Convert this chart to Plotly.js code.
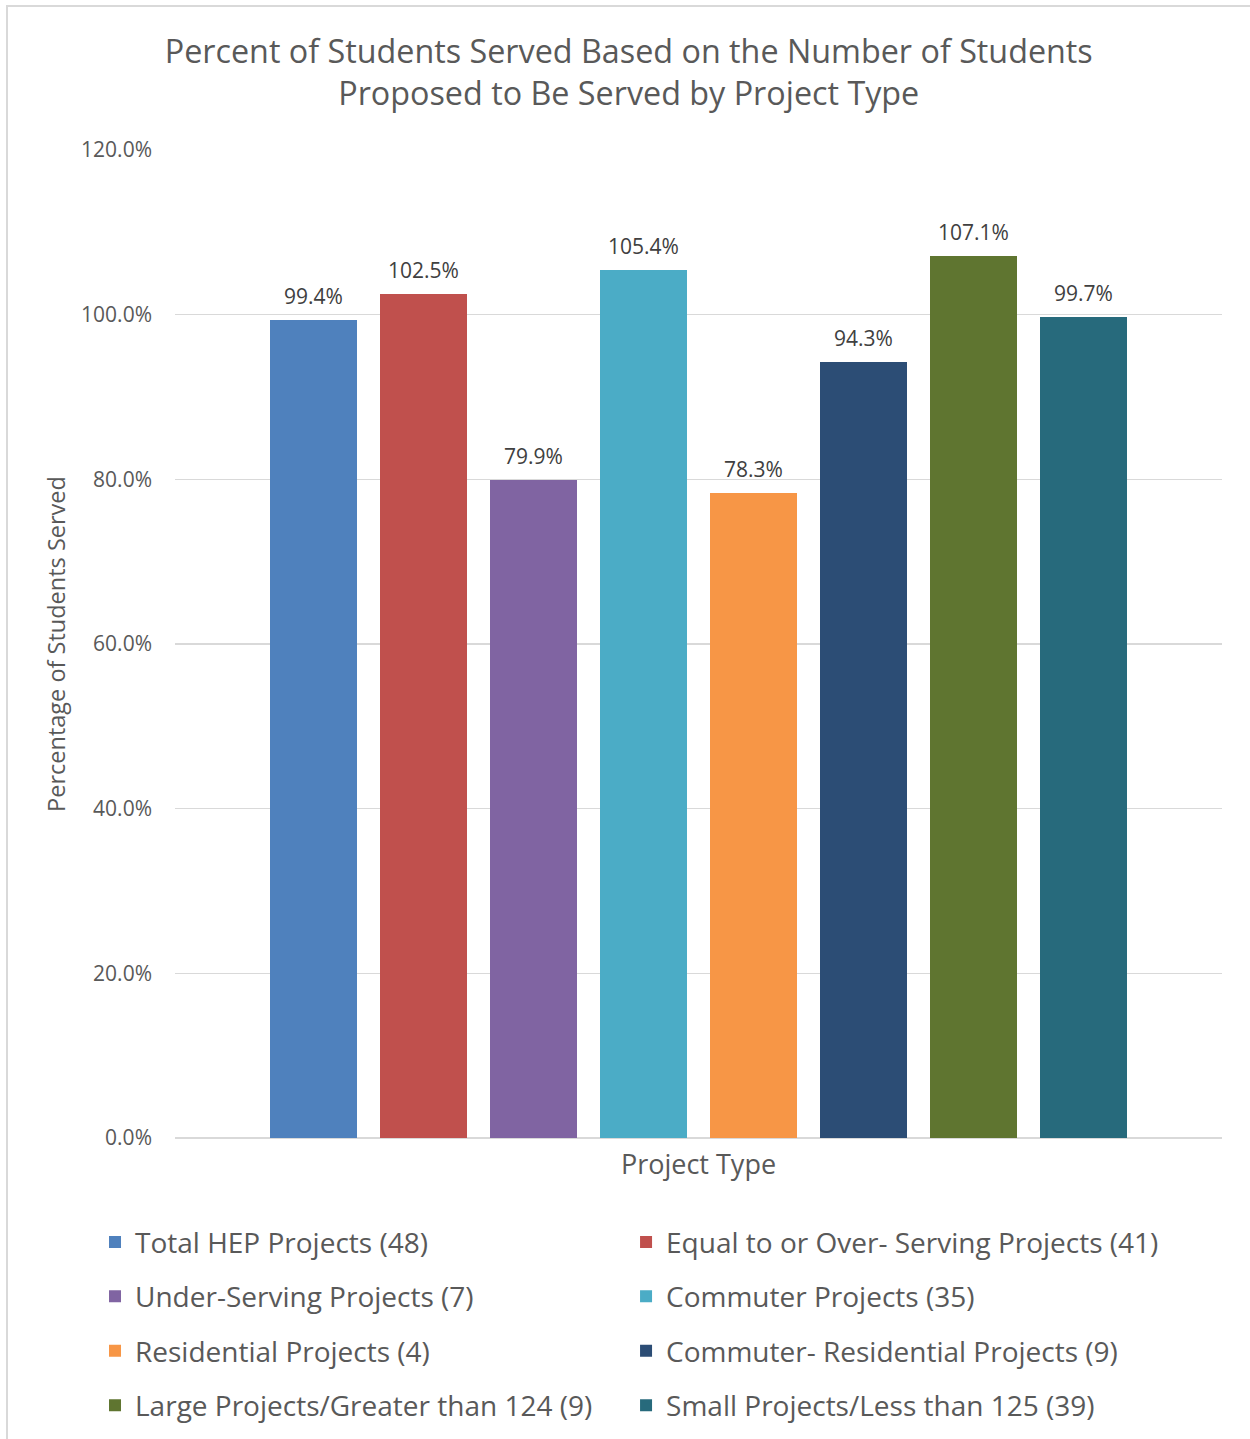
<!DOCTYPE html>
<html>
<head>
<meta charset="utf-8">
<script src="https://cdn.plot.ly/plotly-3.0.1.min.js"></script>
<style>
  html, body { margin: 0; padding: 0; background: #ffffff; overflow: hidden; }
  #wrap { position: relative; width: 1250px; height: 1439px; }
  #chart { position: absolute; left: 0; top: 0; width: 1250px; height: 1439px; }
  #frame { position: absolute; left: 6px; top: 5px; right: -10px; bottom: -10px;
           border-left: 2px solid #d9d9d9; border-top: 2px solid #d9d9d9; pointer-events: none; }
</style>
</head>
<body>
<div id="wrap"><div id="chart"></div><div id="frame"></div></div>
<script>
// Project groups and the share of proposed students actually served (%)
const projectTypes = [
  "Total HEP Projects (48)",
  "Equal to or Over- Serving Projects (41)",
  "Under-Serving Projects (7)",
  "Commuter Projects (35)",
  "Residential Projects (4)",
  "Commuter- Residential Projects (9)",
  "Large Projects/Greater than 124 (9)",
  "Small Projects/Less than 125 (39)"
];
const percentServed = [99.4, 102.5, 79.9, 105.4, 78.3, 94.3, 107.1, 99.7];
const barColors = ["#4f81bd", "#c0504d", "#8064a2", "#4bacc6", "#f79646", "#2c4d75", "#5f7530", "#276a7c"];
const yTicks = [0, 20, 40, 60, 80, 100, 120];
const yTickText = yTicks.map(v => v.toFixed(1) + "%");

const FONT = "'Open Sans', 'Noto Sans', sans-serif";
const GREY = "#595959";

// One bar per project group, alternating between the two legend columns
const traces = projectTypes.map((name, i) => ({
  type: "bar",
  name: name,
  x: [i],
  y: [percentServed[i]],
  width: 0.79,
  marker: { color: barColors[i] },
  legend: i % 2 === 0 ? "legend" : "legend2",
  legendgroup: "g" + i,
  hovertemplate: "%{y:.1f}%<extra>" + name + "</extra>"
}));

// Value labels above each bar
const labels = percentServed.map((v, i) => ({
  x: i, y: v, xref: "x", yref: "y",
  text: v.toFixed(1) + "%",
  showarrow: false,
  yanchor: "bottom",
  yshift: 8,
  font: { family: FONT, size: 21, color: "#404040" }
}));

const legendCommon = {
  orientation: "v",
  traceorder: "grouped",
  tracegroupgap: 15,
  xanchor: "left",
  yref: "container",
  yanchor: "top",
  y: 0.1541,
  bgcolor: "rgba(0,0,0,0)",
  font: { family: FONT, size: 28, color: GREY }
};

const layout = {
  width: 1250,
  height: 1439,
  margin: { l: 175, r: 28, t: 150, b: 301 },
  paper_bgcolor: "#ffffff",
  plot_bgcolor: "#ffffff",
  font: { family: FONT, color: GREY },
  title: {
    text: "Percent of Students Served Based on the Number of Students<br>Proposed to Be Served by Project Type",
    font: { family: FONT, size: 32.3, color: GREY },
    xref: "container", x: 0.503, xanchor: "center",
    yref: "container", y: 0.956, yanchor: "top"
  },
  xaxis: {
    range: [-1.259, 8.259],
    showticklabels: false,
    showgrid: false,
    zeroline: false,
    ticks: "",
    fixedrange: true,
    title: { text: "Project Type", font: { family: FONT, size: 27, color: GREY }, standoff: 17 }
  },
  yaxis: {
    range: [0, 120],
    tickvals: yTicks,
    ticktext: yTickText,
    tickfont: { family: FONT, size: 21, color: GREY },
    ticklabelstandoff: 22,
    gridcolor: "#d9d9d9",
    gridwidth: 1.5,
    zeroline: true,
    zerolinecolor: "#d9d9d9",
    zerolinewidth: 2,
    showline: false,
    fixedrange: true,
    title: { text: "Percentage of Students Served", font: { family: FONT, size: 23.5, color: GREY }, standoff: 8 }
  },
  bargap: 0,
  barmode: "overlay",
  annotations: labels,
  showlegend: true,
  legend: Object.assign({}, legendCommon, { x: -0.0764 }),
  legend2: Object.assign({}, legendCommon, { x: 0.4308 })
};

Plotly.newPlot("chart", traces, layout, { displayModeBar: false, staticPlot: true });
</script>
</body>
</html>
